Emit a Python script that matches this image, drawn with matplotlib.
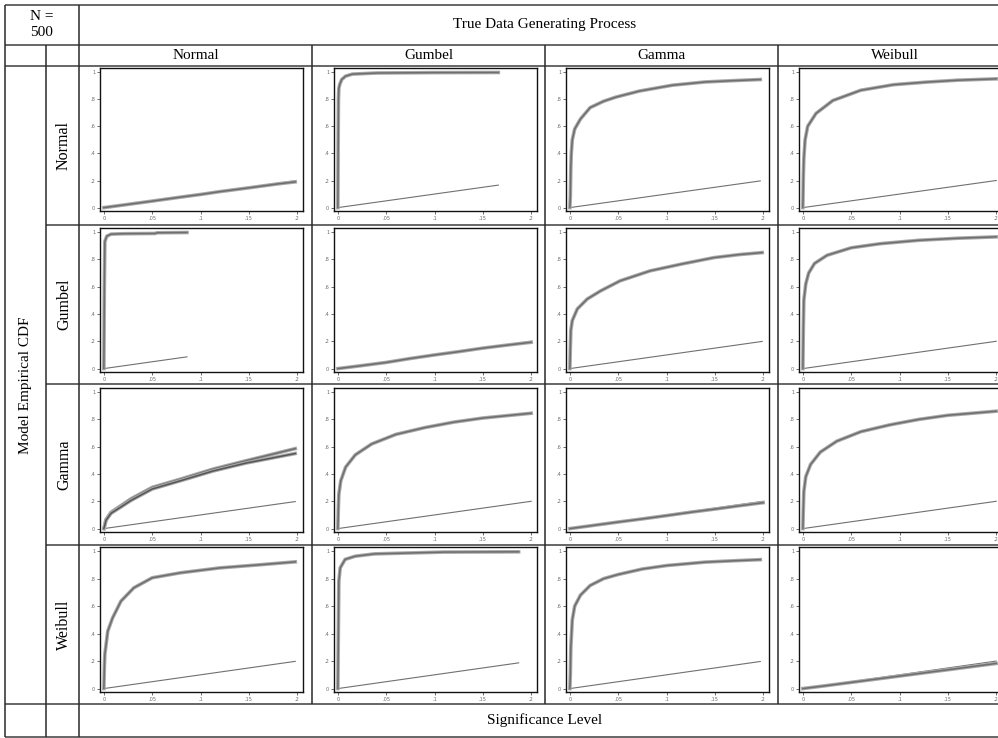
import matplotlib
matplotlib.use("Agg")
import matplotlib.pyplot as plt
import matplotlib.patheffects as pe

# ---------------- data ----------------
models = ["Normal", "Gumbel", "Gamma", "Weibull"]      # rows: model empirical CDF
dgps = ["Normal", "Gumbel", "Gamma", "Weibull"]        # columns: true DGP
x_ticks = [0, 0.05, 0.1, 0.15, 0.2]
x_ticklabels = ["0", ".05", ".1", ".15", ".2"]
y_ticks = [0, 0.2, 0.4, 0.6, 0.8, 1.0]
y_ticklabels = ["0", ".2", ".4", ".6", ".8", "1"]

# row Normal
x_normal_normal = [0, 0.02, 0.05, 0.08, 0.1, 0.12, 0.15, 0.18, 0.198]
y_normal_normal = [0, 0.019, 0.048, 0.078, 0.097, 0.118, 0.146, 0.175, 0.19]
x_normal_gumbel = [0, 0.0003, 0.0006, 0.001, 0.002, 0.004, 0.008, 0.015, 0.04, 0.1, 0.166]
y_normal_gumbel = [0, 0.45, 0.8, 0.88, 0.91, 0.945, 0.97, 0.985, 0.993, 0.996, 0.997]
x_normal_gamma = [0, 0.0005, 0.001, 0.0015, 0.0025, 0.005, 0.011, 0.021, 0.035, 0.048, 0.072, 0.106, 0.14, 0.17, 0.197]
y_normal_gamma = [0, 0.08, 0.3, 0.4, 0.5, 0.58, 0.654, 0.738, 0.785, 0.816, 0.86, 0.903, 0.927, 0.937, 0.945]
x_normal_weibull = [0, 0.0005, 0.001, 0.0023, 0.005, 0.0136, 0.031, 0.06, 0.094, 0.128, 0.16, 0.2]
y_normal_weibull = [0, 0.23, 0.36, 0.5, 0.6, 0.695, 0.79, 0.866, 0.907, 0.926, 0.94, 0.95]

# row Gumbel
x_gumbel_normal = [0, 0.0005, 0.001, 0.003, 0.0074, 0.02, 0.053, 0.055, 0.086]
y_gumbel_normal = [0, 0.6, 0.93, 0.97, 0.985, 0.988, 0.99, 0.995, 0.997]
x_gumbel_gumbel = [0, 0.025, 0.05, 0.075, 0.1, 0.125, 0.15, 0.175, 0.2]
y_gumbel_gumbel = [0, 0.022, 0.045, 0.074, 0.1, 0.124, 0.15, 0.172, 0.193]
x_gumbel_gamma = [0, 0.0005, 0.001, 0.0025, 0.0077, 0.018, 0.032, 0.052, 0.083, 0.115, 0.149, 0.175, 0.199]
y_gumbel_gamma = [0, 0.15, 0.28, 0.352, 0.437, 0.51, 0.57, 0.643, 0.716, 0.765, 0.813, 0.835, 0.85]
x_gumbel_weibull = [0, 0.0005, 0.001, 0.003, 0.006, 0.012, 0.025, 0.05, 0.08, 0.12, 0.16, 0.2]
y_gumbel_weibull = [0, 0.3, 0.5, 0.62, 0.7, 0.77, 0.83, 0.885, 0.915, 0.94, 0.955, 0.965]

# row Gamma
x_gamma_normal = [0, 0.0023, 0.0074, 0.0176, 0.028, 0.05, 0.079, 0.113, 0.147, 0.198]
y_gamma_normal_a = [0, 0.067, 0.12, 0.168, 0.218, 0.302, 0.362, 0.436, 0.497, 0.586]
y_gamma_normal_b = [0, 0.062, 0.112, 0.158, 0.206, 0.29, 0.35, 0.422, 0.48, 0.55]
x_gamma_gumbel = [0, 0.0005, 0.001, 0.003, 0.008, 0.018, 0.035, 0.06, 0.09, 0.12, 0.15, 0.2]
y_gamma_gumbel = [0, 0.15, 0.25, 0.35, 0.45, 0.54, 0.62, 0.69, 0.74, 0.78, 0.81, 0.845]
x_gamma_gamma = [0, 0.025, 0.05, 0.075, 0.1, 0.125, 0.15, 0.175, 0.2]
y_gamma_gamma = [0, 0.024, 0.048, 0.071, 0.095, 0.12, 0.143, 0.167, 0.19]
x_gamma_weibull = [0, 0.0005, 0.001, 0.003, 0.008, 0.018, 0.035, 0.06, 0.09, 0.12, 0.15, 0.2]
y_gamma_weibull = [0, 0.15, 0.27, 0.38, 0.47, 0.56, 0.64, 0.71, 0.76, 0.8, 0.83, 0.86]

# row Weibull
x_weibull_normal = [0, 0.0005, 0.001, 0.0023, 0.004, 0.009, 0.0177, 0.031, 0.05, 0.079, 0.12, 0.16, 0.198]
y_weibull_normal = [0, 0.15, 0.25, 0.32, 0.417, 0.514, 0.636, 0.733, 0.806, 0.842, 0.878, 0.9, 0.922]
x_weibull_gumbel = [0, 0.0005, 0.001, 0.0024, 0.0075, 0.018, 0.038, 0.11, 0.187]
y_weibull_gumbel = [0, 0.4, 0.78, 0.878, 0.94, 0.963, 0.98, 0.993, 0.995]
x_weibull_gamma = [0, 0.0005, 0.001, 0.0025, 0.005, 0.011, 0.021, 0.035, 0.05, 0.075, 0.1, 0.14, 0.17, 0.197]
y_weibull_gamma = [0, 0.1, 0.3, 0.5, 0.6, 0.68, 0.75, 0.8, 0.83, 0.87, 0.895, 0.92, 0.93, 0.938]
x_weibull_weibull = [0, 0.025, 0.05, 0.075, 0.1, 0.125, 0.15, 0.175, 0.2]
y_weibull_weibull = [0, 0.022, 0.045, 0.068, 0.091, 0.114, 0.137, 0.16, 0.183]

panels = {
    ("Normal", "Normal"): (x_normal_normal, [y_normal_normal]),
    ("Normal", "Gumbel"): (x_normal_gumbel, [y_normal_gumbel]),
    ("Normal", "Gamma"): (x_normal_gamma, [y_normal_gamma]),
    ("Normal", "Weibull"): (x_normal_weibull, [y_normal_weibull]),
    ("Gumbel", "Normal"): (x_gumbel_normal, [y_gumbel_normal]),
    ("Gumbel", "Gumbel"): (x_gumbel_gumbel, [y_gumbel_gumbel]),
    ("Gumbel", "Gamma"): (x_gumbel_gamma, [y_gumbel_gamma]),
    ("Gumbel", "Weibull"): (x_gumbel_weibull, [y_gumbel_weibull]),
    ("Gamma", "Normal"): (x_gamma_normal, [y_gamma_normal_a, y_gamma_normal_b]),
    ("Gamma", "Gumbel"): (x_gamma_gumbel, [y_gamma_gumbel]),
    ("Gamma", "Gamma"): (x_gamma_gamma, [y_gamma_gamma]),
    ("Gamma", "Weibull"): (x_gamma_weibull, [y_gamma_weibull]),
    ("Weibull", "Normal"): (x_weibull_normal, [y_weibull_normal]),
    ("Weibull", "Gumbel"): (x_weibull_gumbel, [y_weibull_gumbel]),
    ("Weibull", "Gamma"): (x_weibull_gamma, [y_weibull_gamma]),
    ("Weibull", "Weibull"): (x_weibull_weibull, [y_weibull_weibull]),
}

# ---------------- layout ----------------
W, H = 998, 738
fig = plt.figure(figsize=(W / 100, H / 100), dpi=100)
fig.patch.set_facecolor("white")
serif = ["Liberation Serif", "DejaVu Serif"]

def add_px_axes(left, top, right, bottom):
    return fig.add_axes([left / W, 1 - bottom / H, (right - left) / W, (bottom - top) / H])

# table overlay
tab = fig.add_axes([0, 0, 1, 1], zorder=0)
tab.set_xlim(0, W)
tab.set_ylim(H, 0)
tab.axis("off")

hcol = "#5a5a5a"
vcol = "#2a2a2a"
def hline(y, x0, x1=W):
    tab.plot([x0, x1], [y, y], color=hcol, lw=1.3, solid_capstyle="butt")
def vline(x, y0, y1):
    tab.plot([x, x], [y0, y1], color=vcol, lw=1.1, solid_capstyle="butt")

hline(4.5, 5)
hline(45, 5)
hline(66, 5)
for yy in [225, 384, 545]:
    hline(yy, 46)
hline(704, 5)
hline(736.5, 5)
vline(5.5, 4.5, 736.5)
vline(79, 4.5, 736.5)
vline(46, 45, 736.5)
for xx in [312, 545, 778]:
    vline(xx, 45, 704)

tab.text(42, 24.5, "N =\n500", ha="center", va="center", fontsize=11, family=serif, linespacing=1.4)
tab.text(545, 24.5, "True Data Generating Process", ha="center", va="center", fontsize=11, family=serif)
tab.text(545, 720, "Significance Level", ha="center", va="center", fontsize=11, family=serif)
tab.text(26, 385, "Model Empirical CDF", ha="center", va="center", rotation=90, fontsize=11, family=serif)

col_centers = [195.5, 428.5, 661.5, 894.5]
for c, name in zip(col_centers, dgps):
    tab.text(c, 55.5, name, ha="center", va="center", fontsize=11, family=serif)
row_bounds = [(66, 225), (225, 384), (384, 545), (545, 704)]
for (t, b), name in zip(row_bounds, models):
    tab.text(64, (t + b) / 2, name, ha="center", va="center", rotation=90, fontsize=11.5, family=serif)

ax_lefts = [100, 334, 566, 799]
ax_w = 203
ax_rows = [(68, 211), (228, 372), (388, 532), (547, 692)]

for ri, model in enumerate(models):
    top, bottom = ax_rows[ri]
    for ci, dgp in enumerate(dgps):
        left = ax_lefts[ci]
        ax = add_px_axes(left, top, left + ax_w, bottom)
        ax.set_zorder(2)
        xs, ys_list = panels[(model, dgp)]
        xend = xs[-1]
        ax.plot([0, xend], [0, xend], color="#707070", lw=0.8, zorder=2)
        for k, ys in enumerate(ys_list):
            col = "#6e6e6e" if k == 0 else "#555555"
            ax.plot(xs, ys, color=col, lw=1.1, zorder=3 + k,
                    path_effects=[pe.Stroke(linewidth=2.6, foreground="#a9a9a9"), pe.Normal()])
        ax.set_xlim(-0.004, 0.206)
        ax.set_ylim(-0.025, 1.03)
        ax.set_xticks(x_ticks)
        ax.set_xticklabels(x_ticklabels)
        ax.set_yticks(y_ticks)
        ax.set_yticklabels(y_ticklabels)
        ax.tick_params(axis="both", length=2, width=0.6, color="#555555", labelsize=3.6,
                       labelcolor="#6a6a6a", pad=1.5)
        for s in ax.spines.values():
            s.set_color("#111111")
            s.set_linewidth(1.0)

fig.savefig("out.png", dpi=100, facecolor="white")
